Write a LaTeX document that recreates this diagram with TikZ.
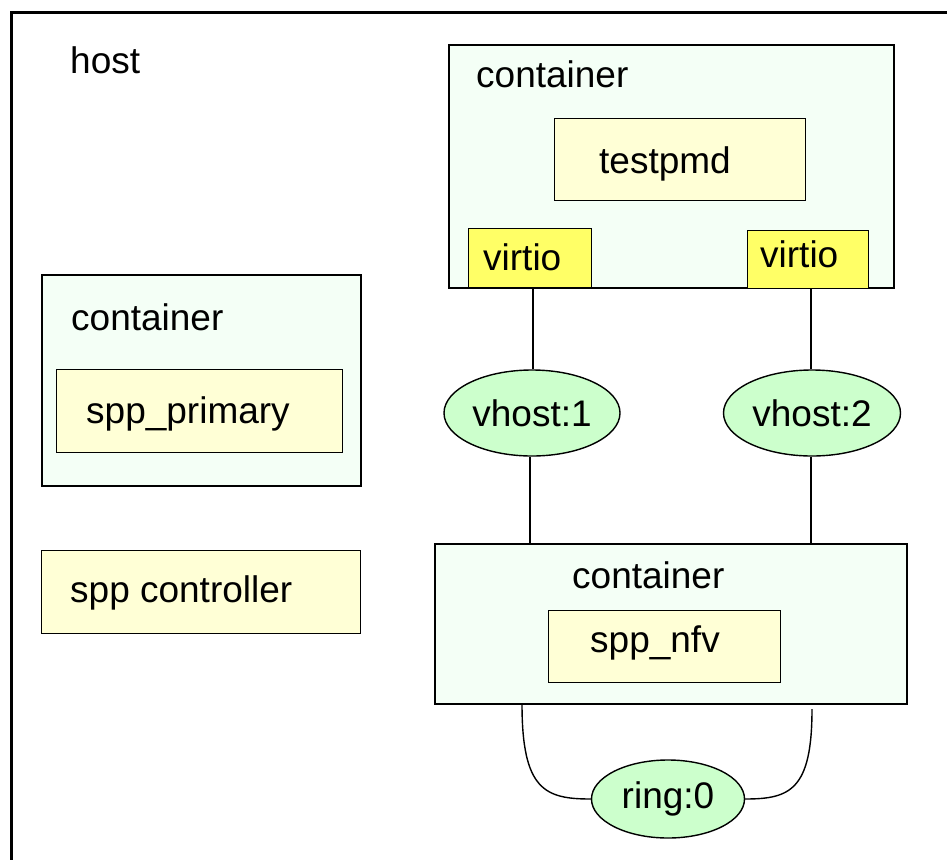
\documentclass[tikz,border=0pt]{standalone}
\usepackage{fontspec}
\setmainfont{Liberation Sans}
\usetikzlibrary{shapes.geometric}
\definecolor{contfill}{HTML}{F4FFF6}
\definecolor{appfill}{HTML}{FFFFD6}
\definecolor{virtfill}{HTML}{FFFF66}
\definecolor{portfill}{HTML}{CCFFCC}
\tikzset{
  cont/.style={draw, rectangle, anchor=north west, inner sep=0pt, fill=contfill, line width=2.2pt},
  app/.style={draw, rectangle, anchor=north west, inner sep=0pt, fill=appfill, line width=1.4pt},
  virt/.style={draw, rectangle, anchor=north west, inner sep=0pt, fill=virtfill, line width=1.4pt},
  port/.style={draw, ellipse, inner sep=0pt, fill=portfill, line width=1.4pt, font=\fontsize{37}{44}\selectfont},
  lbl/.style={anchor=base west, inner sep=0pt, font=\fontsize{37}{44}\selectfont},
  link/.style={line width=1.4pt},
}
\begin{document}
\begin{tikzpicture}[x=1pt,y=-1pt]
\useasboundingbox (0,0) rectangle (947,859);
\clip (0,0) rectangle (947,859);
\fill[white] (0,0) rectangle (947,859);
% host
\node[draw, rectangle, anchor=north west, inner sep=0pt, line width=3pt, minimum width=980pt, minimum height=900pt] (host) at (10,11) {};
\node[lbl] (hostlbl) at (70,74) {host};
% left container
\node[cont, minimum width=319pt, minimum height=211pt] (pc) at (41,274) {};
\node[lbl] (pclbl) at (71,330) {container};
\node[app, minimum width=286pt, minimum height=83pt] (prim) at (56,369) {};
\node[lbl] (primlbl) at (86,423) {spp\_primary};
% controller
\node[app, minimum width=319pt, minimum height=83pt] (ctl) at (41,550) {};
\node[lbl] (ctllbl) at (70,602) {spp controller};
% top container
\node[cont, minimum width=445pt, minimum height=243pt] (topc) at (448,44) {};
\node[lbl] (topclbl) at (476,88) {container};
\node[app, minimum width=251pt, minimum height=82pt] (tpmd) at (554,118) {};
\node[lbl] (tpmdlbl) at (599,173) {testpmd};
\node[virt, minimum width=123pt, minimum height=59pt] (v1) at (468,228) {};
\node[lbl] (v1lbl) at (483,270) {virtio};
\node[virt, minimum width=121pt, minimum height=58pt] (v2) at (747,230) {};
\node[lbl] (v2lbl) at (760,267) {virtio};
% vhosts
\node[port, minimum width=176pt, minimum height=86pt] (vh1) at (532,413) {vhost:1};
\node[port, minimum width=177pt, minimum height=86pt] (vh2) at (812,413) {vhost:2};
% bottom container
\node[cont, minimum width=472pt, minimum height=160pt] (nfvc) at (434,543) {};
\node[lbl] (nfvclbl) at (572,588) {container};
\node[app, minimum width=232pt, minimum height=72pt] (nfv) at (548,610) {};
\node[lbl] (nfvlbl) at (590,652) {spp\_nfv};
% ring
\node[port, minimum width=153pt, minimum height=78pt] (ring) at (668,799) {ring:0};
% connectors
\draw[link] (vh1.north -| 533,0) -- (v1.south -| 533,0);
\draw[link] (vh2.north -| 811,0) -- (v2.south -| 811,0);
\draw[link] (vh1.south -| 530,0) -- (nfvc.north -| 530,0);
\draw[link] (vh2.south -| 811,0) -- (nfvc.north -| 811,0);
\coordinate (rl) at (522,704);
\coordinate (rr) at (812,709);
\draw[link] (rl) .. controls (522,790) and (545,799) .. (ring.west);
\draw[link] (rr) .. controls (812,790) and (790,799) .. (ring.east);
\end{tikzpicture}
\end{document}
